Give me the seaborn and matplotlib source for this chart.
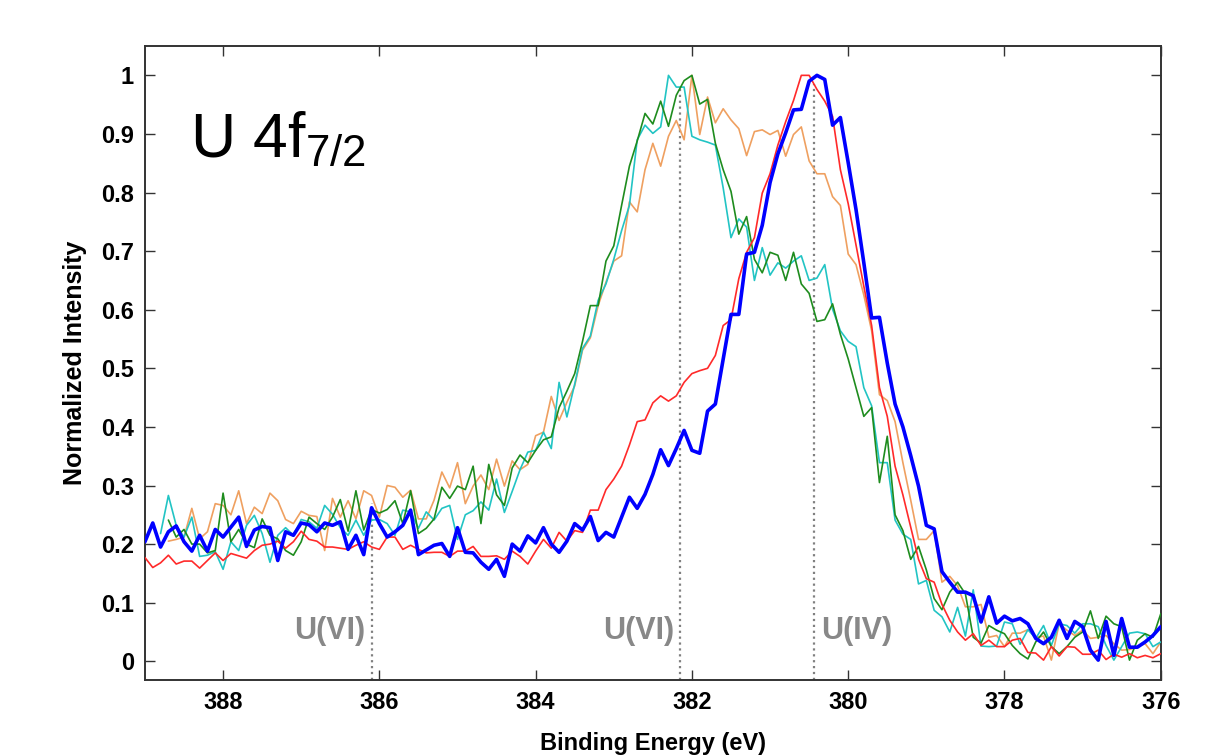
import numpy as np
import pandas as pd
import matplotlib.pyplot as plt
import seaborn as sns

# binding energy grids (eV), 0.1 eV steps as recorded
be_full = np.linspace(389.0, 376.0, 131)    # blue, red
be_cyan = np.linspace(388.8, 376.0, 129)
be_short = np.linspace(388.7, 376.0, 128)   # orange, green

blue = [0.204, 0.236, 0.195, 0.221, 0.231, 0.204, 0.188, 0.215, 0.188, 0.225,
        0.212, 0.229, 0.246, 0.196, 0.224, 0.230, 0.228, 0.172, 0.221, 0.215,
        0.236, 0.233, 0.221, 0.236, 0.232, 0.238, 0.191, 0.215, 0.182, 0.262,
        0.235, 0.212, 0.221, 0.232, 0.258, 0.182, 0.190, 0.198, 0.201,
        0.179, 0.228, 0.186, 0.185, 0.169, 0.157, 0.174, 0.145, 0.200, 0.188,
        0.214, 0.202, 0.228, 0.200, 0.186, 0.205, 0.235, 0.224, 0.247, 0.206,
        0.220, 0.212, 0.246, 0.280, 0.261, 0.285, 0.319, 0.361, 0.334, 0.363,
        0.394, 0.360, 0.355,
        0.427, 0.439, 0.516, 0.592, 0.592, 0.695, 0.698, 0.744, 0.817, 0.866,
        0.902, 0.941, 0.942, 0.990, 1.000, 0.993, 0.915, 0.928, 0.851, 0.771,
        0.680, 0.586, 0.587, 0.509, 0.439, 0.400, 0.351, 0.299, 0.232, 0.226,
        0.153, 0.135, 0.118,
        0.118, 0.112, 0.067, 0.110, 0.065, 0.077, 0.069, 0.073, 0.064, 0.039,
        0.030, 0.041, 0.070, 0.039, 0.068, 0.059, 0.019, 0.002, 0.068, 0.010,
        0.073, 0.024, 0.024, 0.033, 0.044, 0.059]

red = [0.177, 0.160, 0.168, 0.181, 0.166, 0.171, 0.171, 0.159, 0.172, 0.185,
       0.172, 0.184, 0.180, 0.176, 0.189, 0.198, 0.200, 0.205, 0.193, 0.204,
       0.222, 0.208, 0.205, 0.195, 0.195, 0.193, 0.191, 0.198, 0.204, 0.195,
       0.191, 0.212, 0.212, 0.191, 0.198, 0.191, 0.185, 0.186, 0.186,
       0.179, 0.188, 0.188, 0.196, 0.179, 0.179, 0.180, 0.174, 0.188, 0.179,
       0.166, 0.188, 0.208, 0.193, 0.220, 0.205, 0.223, 0.220, 0.258, 0.258,
       0.293, 0.311, 0.333, 0.369, 0.409, 0.412, 0.441, 0.453, 0.444, 0.453,
       0.476, 0.491, 0.496, 0.500, 0.522, 0.573, 0.583, 0.653, 0.698, 0.723,
       0.799, 0.832, 0.881, 0.921, 0.957, 1.000, 1.000, 0.976, 0.956, 0.930,
       0.839, 0.781, 0.711, 0.640, 0.573, 0.467, 0.418, 0.333, 0.284, 0.229,
       0.174, 0.141, 0.135, 0.097, 0.070,
       0.050, 0.036, 0.047, 0.027, 0.036, 0.025, 0.025, 0.036, 0.039, 0.015,
       0.014, 0.002, 0.025, 0.009, 0.025, 0.024, 0.012, 0.012, 0.019, 0.003,
       0.012, 0.007, 0.013, 0.006, 0.010, 0.006, 0.013]

orange = [0.205, 0.208, 0.212, 0.261, 0.209, 0.221, 0.269, 0.266, 0.250, 0.291,
          0.235, 0.263, 0.252, 0.287, 0.274, 0.242, 0.235, 0.256, 0.249, 0.247,
          0.189, 0.278, 0.246, 0.274, 0.243, 0.291, 0.283, 0.246, 0.300, 0.297,
          0.280, 0.292, 0.243, 0.243, 0.275, 0.323,
          0.296, 0.339, 0.269, 0.299, 0.318, 0.293, 0.345, 0.299, 0.342, 0.327,
          0.336, 0.385, 0.391, 0.452, 0.411, 0.442, 0.470, 0.531, 0.552, 0.607,
          0.647, 0.683, 0.692, 0.784, 0.767, 0.839, 0.884, 0.845, 0.896, 0.923,
          0.890, 1.000,
          0.899, 0.963, 0.919, 0.943, 0.924, 0.909, 0.863, 0.904, 0.907, 0.899,
          0.906, 0.862, 0.899, 0.912, 0.854, 0.832, 0.832, 0.793, 0.778, 0.695,
          0.677, 0.625, 0.564, 0.455, 0.445, 0.409, 0.339, 0.275, 0.208, 0.208,
          0.223, 0.135, 0.145, 0.129,
          0.093, 0.093, 0.097, 0.041, 0.044, 0.025, 0.048, 0.048, 0.054, 0.041,
          0.043, 0.002, 0.064, 0.053, 0.044, 0.053, 0.039, 0.041, 0.044, 0.030,
          0.019, 0.020, 0.025, 0.030, 0.013, 0.033]

cyan = [0.218, 0.283, 0.232, 0.212, 0.246, 0.179, 0.181, 0.187, 0.157, 0.204,
        0.189, 0.232, 0.249, 0.218, 0.169, 0.215, 0.228, 0.215, 0.242, 0.238,
        0.227, 0.266, 0.251, 0.228, 0.215, 0.241, 0.215, 0.241, 0.242, 0.235,
        0.215, 0.258, 0.255, 0.227, 0.255, 0.241, 0.261,
        0.266, 0.208, 0.250, 0.257, 0.272, 0.258, 0.311, 0.254, 0.290, 0.327,
        0.357, 0.360, 0.391, 0.363, 0.476, 0.417, 0.473, 0.534, 0.555, 0.616,
        0.644, 0.686, 0.735, 0.778, 0.890, 0.915, 0.901, 0.912, 1.000, 0.980,
        0.980, 0.896, 0.890, 0.886, 0.881, 0.808, 0.723, 0.755, 0.741, 0.650,
        0.706, 0.659, 0.680, 0.671, 0.683, 0.692, 0.650, 0.654, 0.677, 0.601,
        0.564, 0.546, 0.537, 0.467, 0.436, 0.339, 0.339, 0.241, 0.217, 0.208,
        0.132, 0.138,
        0.087, 0.076, 0.050, 0.092, 0.043, 0.122, 0.026, 0.025, 0.026, 0.067,
        0.064, 0.029, 0.054, 0.039, 0.061, 0.027, 0.064, 0.061, 0.048, 0.064,
        0.064, 0.059, 0.027, 0.002, 0.025, 0.048, 0.050, 0.047, 0.025, 0.033]

green = [0.241, 0.212, 0.225, 0.200, 0.200, 0.185, 0.189, 0.287, 0.204, 0.225,
         0.200, 0.194, 0.243, 0.215, 0.209, 0.189, 0.181, 0.204, 0.246, 0.235,
         0.225, 0.246, 0.276, 0.222, 0.291, 0.224, 0.259, 0.253, 0.259, 0.274,
         0.235, 0.291, 0.218, 0.227, 0.243, 0.297,
         0.278, 0.299, 0.293, 0.333, 0.235, 0.336, 0.284, 0.266, 0.330, 0.352,
         0.339, 0.360, 0.378, 0.383, 0.433, 0.461, 0.491, 0.546, 0.607, 0.607,
         0.683, 0.709, 0.778, 0.845, 0.888, 0.935, 0.917, 0.956, 0.913, 0.966,
         0.991, 1.000, 0.951, 0.959, 0.884, 0.839, 0.802, 0.729, 0.759, 0.686,
         0.663, 0.698, 0.693, 0.650, 0.698, 0.644, 0.628, 0.580, 0.583, 0.610,
         0.558, 0.516, 0.467, 0.418, 0.433, 0.305, 0.384, 0.250, 0.223, 0.174,
         0.196, 0.156,
         0.107, 0.088, 0.118, 0.135, 0.115, 0.041, 0.031, 0.061, 0.053, 0.047,
         0.027, 0.013, 0.004, 0.033, 0.050, 0.025, 0.013, 0.025, 0.041, 0.050,
         0.086, 0.039, 0.077, 0.064, 0.059, 0.002, 0.036, 0.047, 0.041, 0.081]

# reference lines for the oxidation states
state_be = [386.1, 382.15, 380.44]
state_top = [0.27, 0.98, 0.985]
state_labels = ["U(VI)", "U(VI)", "U(IV)"]

xticks = [388, 386, 384, 382, 380, 378, 376]
yticks = [0, 0.1, 0.2, 0.3, 0.4, 0.5, 0.6, 0.7, 0.8, 0.9, 1.0]
ytick_labels = ["0", "0.1", "0.2", "0.3", "0.4", "0.5", "0.6", "0.7", "0.8", "0.9", "1"]

#%%
sns.set_style("ticks")
plt.rcParams["font.family"] = ["Liberation Sans", "DejaVu Sans"]
plt.rcParams["mathtext.default"] = "regular"
plt.rcParams["text.color"] = "black"
plt.rcParams["axes.labelcolor"] = "black"

series = [
    ("orange", be_short, orange, "#efa060", 1.2, 2),
    ("cyan", be_cyan, cyan, "#22c4c4", 1.2, 3),
    ("green", be_short, green, "#1e8c1e", 1.2, 4),
    ("red", be_full, red, "#ff2a2a", 1.2, 5),
    ("blue", be_full, blue, "#0000ff", 2.6, 6),
]

fig = plt.figure(figsize=(12.18, 7.55), dpi=100)
ax = fig.add_axes([0.119, 0.0993, 0.834, 0.8397])

for name, be, vals, col, lw, z in series:
    df = pd.DataFrame({"be": be, "intensity": vals})
    sns.lineplot(data=df, x="be", y="intensity", ax=ax, color=col,
                 linewidth=lw, zorder=z, sort=False, estimator=None)

ymin = -0.032
for xb, top in zip(state_be, state_top):
    ax.plot([xb, xb], [ymin, top], linestyle=":", color="#808080",
            linewidth=1.6, zorder=1)

label_ha = ["right", "right", "left"]
label_x = [386.18, 382.22, 380.35]
for xl, txt, ha in zip(label_x, state_labels, label_ha):
    ax.text(xl, 0.052, txt, ha=ha, va="center", fontsize=22,
            fontweight="bold", color="#888888")

ax.text(0.044, 0.825, r"U 4f$_{7/2}$", transform=ax.transAxes,
        fontsize=45, va="baseline", ha="left", color="black")

ax.set_xlim(389, 376)
ax.set_ylim(ymin, 1.05)
ax.set_xticks(xticks)
ax.set_xticklabels([str(t) for t in xticks])
ax.set_yticks(yticks)
ax.set_yticklabels(ytick_labels)

ax.tick_params(direction="in", top=True, right=True, length=7, width=1,
               labelsize=17, pad=8, color="#333333", labelcolor="black")
for lab in ax.get_xticklabels() + ax.get_yticklabels():
    lab.set_fontweight("bold")

for sp in ax.spines.values():
    sp.set_visible(True)
    sp.set_linewidth(1.4)
    sp.set_color("#333333")

ax.set_xlabel("Binding Energy (eV)", fontsize=17, fontweight="bold", labelpad=13)
ax.set_ylabel("Normalized Intensity", fontsize=18, fontweight="bold", labelpad=10)

fig.savefig("out.png", dpi=100)
plt.close()
